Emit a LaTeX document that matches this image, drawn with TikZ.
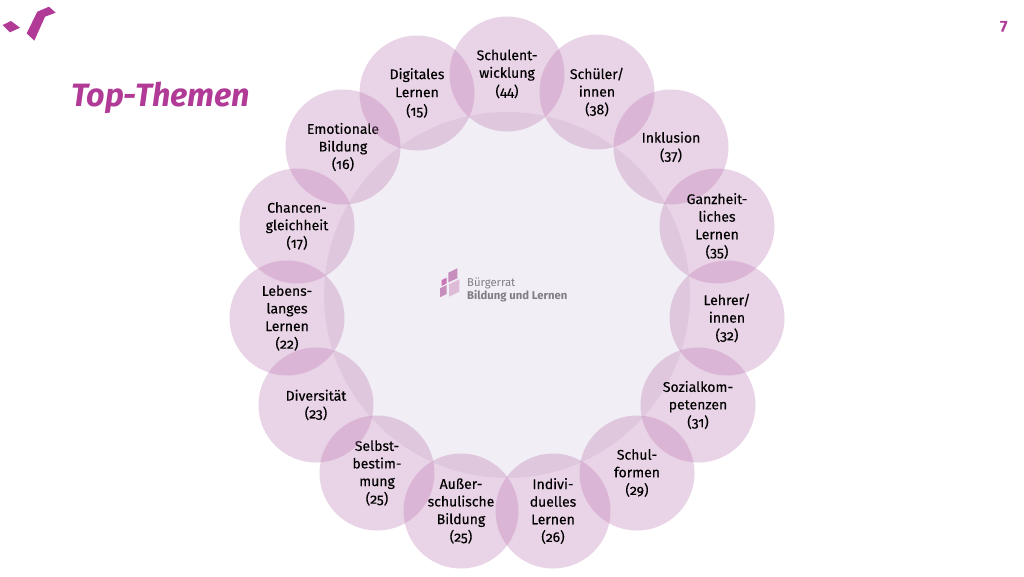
\documentclass[tikz,border=0pt]{standalone}
\usepackage{fontspec}
\setmainfont[Numbers=OldStyle]{Fira Sans}
\newfontfamily\topicfont[Numbers=OldStyle,FakeBold=0.25]{Fira Sans}
\definecolor{themepink}{HTML}{B03A96}
\definecolor{ringpink}{HTML}{BD79B2}
\definecolor{centerfill}{HTML}{F1EEF5}
\definecolor{logogrey}{HTML}{7F7D85}

\begin{document}
\begin{tikzpicture}[x=1pt,y=-1pt]
        \tikzstyle{topic}=[circle,minimum size=115pt,inner sep=0pt,fill=ringpink,fill opacity=.33,text opacity=1,
            text=black,align=center,font=\topicfont\fontsize{14}{17.6}\selectfont]
        \tikzstyle{logotext}=[inner sep=0pt,anchor=base west,text=logogrey,font=\fontsize{11.3}{12}\selectfont]
        \useasboundingbox (0,0) rectangle (1024,576);
        \node[circle,minimum size=366pt,inner sep=0pt,fill=centerfill] (center) at (507,295) {};
        % logo
        \fill[themepink] (2.7,25) -- (11,21) -- (20,27.7) -- (10,32.3) -- cycle;
        \fill[themepink] (26.7,33.3) -- (37.3,11.7) -- (49,6.7) -- (55.7,12.7) -- (45,16.7) -- (34.3,40.7) -- cycle;
        \node[anchor=base west,inner sep=0pt,text=themepink,font=\fontsize{32.3}{34}\selectfont\bfseries\itshape] (title) at (71,106) {Top-Themen};
        \node[inner sep=0pt,text=themepink,font=\fontsize{16}{17}\selectfont\bfseries] (page) at (1004,27) {7};
        % ring
        \node[topic] (schule) at (507,74) {Schulent-\\wicklung\\[1pt](44)};
        \node[topic] (schueler) at (597,92) {Schüler/\\innen\\(38)};
        \node[topic] (inklusion) at (671,147) {Inklusion\\(37)};
        \node[topic] (ganzheit) at (717,226) {Ganzheit-\\liches\\Lernen\\(35)};
        \node[topic] (lehrer) at (727,318) {Lehrer/\\innen\\(32)};
        \node[topic] (sozial) at (698,405) {Sozialkom-\\petenzen\\(31)};
        \node[topic] (formen) at (637,473) {Schul-\\formen\\(29)};
        \node[topic] (indiv) at (553,511) {Indivi-\\duelles\\Lernen\\(26)};
        \node[topic] (ausser) at (461,511) {Außer-\\schulische\\Bildung\\(25)};
        \node[topic] (selbst) at (377,473) {Selbst-\\bestim-\\mung\\(25)};
        \node[topic] (divers) at (316,405) {Diversität\\(23)};
        \node[topic] (lebens) at (287,318) {Lebens-\\langes\\Lernen\\(22)};
        \node[topic] (chancen) at (297,226) {Chancen-\\gleichheit\\(17)};
        \node[topic] (emotion) at (343,147) {Emotionale\\Bildung\\(16)};
        \node[topic] (digital) at (417,93) {Digitales\\[.5pt]Lernen\\[1pt](15)};
        % center logo
        \fill[ringpink!85] (448.3,272.7) -- (457.3,268.3) -- (457.3,278.3) -- (448.3,282.3) -- cycle;
        \fill[themepink!70] (441.7,280) -- (446.7,277.7) -- (446.7,283.3) -- (441.7,286) -- cycle;
        \fill[ringpink!85] (440,288.3) -- (446.7,285) -- (446.7,294) -- (440,297.3) -- cycle;
        \fill[ringpink!50] (449,284.3) -- (459.3,279.3) -- (459.3,291.7) -- (449,296.7) -- cycle;
        \node[logotext] (buerger) at (467,286) {Bürgerrat};
        \node[logotext,font=\fontsize{11.3}{12}\selectfont\bfseries] (bildung) at (467,299) {Bildung und Lernen};
\end{tikzpicture}
\end{document}
